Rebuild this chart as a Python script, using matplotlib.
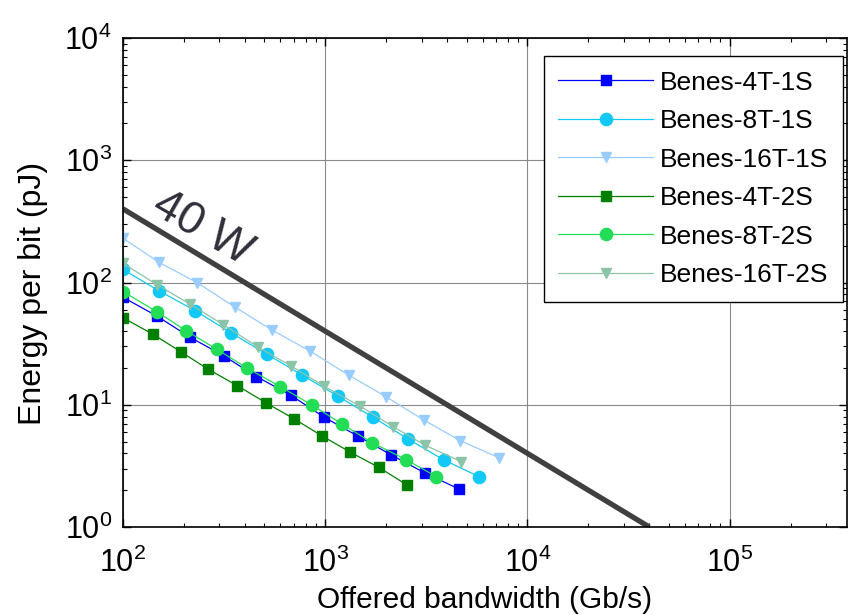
import matplotlib
matplotlib.use("Agg")
import matplotlib.pyplot as plt
from matplotlib import font_manager

plt.rcParams['font.family'] = ['Liberation Sans', 'DejaVu Sans']

# pick a narrow face for the tall, narrow tick digits if available
try:
    font_manager.findfont('Liberation Sans Narrow', fallback_to_default=False)
    tick_family = 'Liberation Sans Narrow'
    tick_size = 25
except Exception:
    tick_family = 'Liberation Sans'
    tick_size = 22
plt.rcParams['mathtext.fontset'] = 'custom'
plt.rcParams['mathtext.rm'] = tick_family
plt.rcParams['mathtext.it'] = tick_family

# ---- data ----
bw_4T_1S = [100, 147, 215, 314, 457, 674, 988, 1445, 2117, 3118, 4603]
e_4T_1S = [75.7, 53.2, 35.6, 25.2, 17.0, 12.0, 7.9, 5.56, 3.89, 2.76, 2.04]

bw_8T_1S = [100, 151, 228, 341, 514, 769, 1151, 1722, 2555, 3853, 5768]
e_8T_1S = [128, 85.2, 58.7, 38.9, 25.9, 17.5, 11.8, 7.91, 5.27, 3.54, 2.58]

bw_16T_1S = [100, 151, 233, 356, 545, 843, 1304, 2004, 3067, 4660, 7211]
e_16T_1S = [230, 146, 99.6, 63.2, 40.9, 27.4, 17.5, 11.6, 7.51, 5.08, 3.69]

bw_4T_2S = [100, 140, 194, 264, 368, 508, 703, 964, 1331, 1836, 2535]
e_4T_2S = [51.5, 37.9, 27.0, 19.5, 14.3, 10.4, 7.65, 5.56, 4.09, 3.08, 2.21]

bw_8T_2S = [100, 147, 205, 291, 412, 598, 859, 1210, 1703, 2507, 3548]
e_8T_2S = [84.1, 57.7, 40.3, 28.4, 19.9, 14.1, 9.95, 6.96, 4.90, 3.56, 2.58]

bw_16T_2S = [100, 148, 215, 313, 467, 676, 985, 1479, 2163, 3126, 4698]
e_16T_2S = [143.5, 95.4, 66.4, 45.2, 29.5, 20.8, 14.2, 9.78, 6.62, 4.65, 3.43]

bw_40W = [100, 40000]
e_40W = [400, 1]

labels = ['Benes-4T-1S', 'Benes-8T-1S', 'Benes-16T-1S',
          'Benes-4T-2S', 'Benes-8T-2S', 'Benes-16T-2S']

series = [
    (bw_4T_1S, e_4T_1S, '#0000FF', 's', 7.2),
    (bw_8T_1S, e_8T_1S, '#12C8F6', 'o', 8.8),
    (bw_16T_1S, e_16T_1S, '#99CCFF', 'v', 7.8),
    (bw_4T_2S, e_4T_2S, '#008000', 's', 7.2),
    (bw_8T_2S, e_8T_2S, '#22DD55', 'o', 8.8),
    (bw_16T_2S, e_16T_2S, '#8CC4A8', 'v', 7.8),
]

fig = plt.figure(figsize=(8.54, 6.15), dpi=100)
ax = fig.add_axes([123/854, 1-527/615, (847-123)/854, (527-38)/615])

for (x, y, c, m, ms), lab in zip(series, labels):
    ax.plot(x, y, color=c, marker=m, markersize=ms, markeredgecolor=c,
            markerfacecolor=c, linewidth=0.9, label=lab)

ax.plot(bw_40W, e_40W, color='#404040', linewidth=3.8, solid_capstyle='butt')

ax.set_xscale('log')
ax.set_yscale('log')
ax.set_xlim(100, 3.8e5)
ax.set_ylim(1, 1e4)

ax.grid(True, which='major', color='#8a8a8a', linewidth=0.8)
ax.set_axisbelow(True)
ax.tick_params(which='both', direction='in', top=True, right=True)
ax.tick_params(which='major', length=6, width=1, labelsize=tick_size)
ax.tick_params(axis='x', which='major', pad=15)
ax.tick_params(axis='y', which='major', pad=8)
ax.tick_params(which='minor', length=3, width=0.8)
for lbl in ax.get_xticklabels() + ax.get_yticklabels():
    lbl.set_family(tick_family)
for s in ax.spines.values():
    s.set_linewidth(1.2)

ax.set_xlabel('Offered bandwidth (Gb/s)', fontsize=21.5, labelpad=5)
ax.set_ylabel('Energy per bit (pJ)', fontsize=23)
ax.yaxis.set_label_coords(-0.104, 0.477)

ax.text(248, 279, '40 W', fontsize=33, color='#2f2f3a', rotation=-30,
        rotation_mode='anchor', ha='center', va='center')

leg = ax.legend(loc='upper right', bbox_to_anchor=(0.9945, 0.963),
                borderaxespad=0, fontsize=19, frameon=True, fancybox=False,
                edgecolor='black', framealpha=1, handlelength=3.6,
                handletextpad=0.26, labelspacing=0.55, borderpad=0.55)
leg.get_frame().set_linewidth(1.0)

fig.savefig('out.png', dpi=100)
